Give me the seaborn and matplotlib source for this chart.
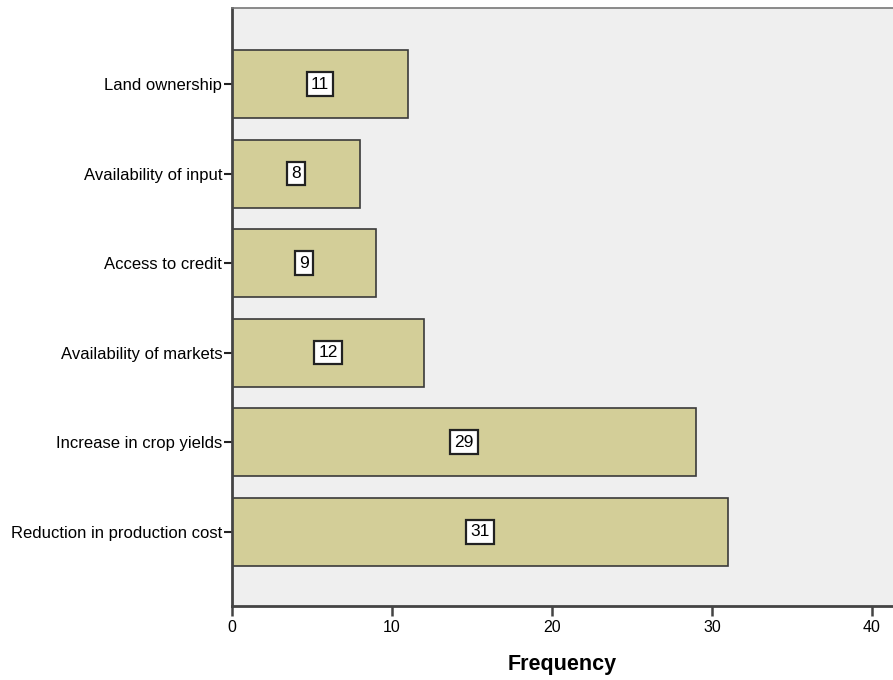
import matplotlib
matplotlib.use("Agg")
import matplotlib.pyplot as plt
import pandas as pd
import seaborn as sns

# ---------- Data ----------
categories = [
    "Land ownership",
    "Availability of input",
    "Access to credit",
    "Availability of markets",
    "Increase in crop yields",
    "Reduction in production cost",
]
frequency = [11, 8, 9, 12, 29, 31]
x_ticks = [0, 10, 20, 30, 40]

BAR_COLOR = "#D3CE98"
BG_COLOR = "#EFEFEF"
EDGE = "#3A3A3A"

df = pd.DataFrame({"category": categories, "frequency": frequency})

sns.set_theme(style="white")
plt.rcParams["font.family"] = ["Liberation Sans", "DejaVu Sans"]

fig = plt.figure(figsize=(8.93, 6.80), dpi=100)
ax = fig.add_axes([232 / 893, 74 / 680, 1 - 232 / 893, 598 / 680])
ax.set_facecolor(BG_COLOR)

sns.barplot(data=df, x="frequency", y="category", orient="h",
            color=BAR_COLOR, saturation=1, width=0.76,
            edgecolor=EDGE, linewidth=1.2, ax=ax)

# value boxes in the middle of each bar
for i, v in enumerate(frequency):
    ax.text(v / 2, i, str(v), ha="center", va="center", fontsize=12.5,
            color="black",
            bbox=dict(boxstyle="square,pad=0.25", facecolor="white",
                      edgecolor="#222222", linewidth=1.6))

ax.set_xlim(0, (893 - 232) / 16)
ax.set_ylim(5.83, -0.85)
ax.set_xticks(x_ticks)
ax.set_xlabel("Frequency", fontsize=15.5, fontweight="bold", labelpad=14,
              color="black")
ax.set_ylabel("")

ax.tick_params(axis="x", direction="out", length=7, width=1.8,
               color="#444444", labelsize=11.5, labelcolor="black",
               pad=3, bottom=True)
ax.tick_params(axis="y", direction="out", length=6, width=1.5,
               color="#222222", labelsize=12, labelcolor="black",
               pad=1, left=True)

for side in ["left", "bottom"]:
    ax.spines[side].set_color("#444444")
    ax.spines[side].set_linewidth(2)
ax.spines["top"].set_color("#777777")
ax.spines["top"].set_linewidth(1.2)
ax.spines["right"].set_visible(False)

plt.savefig("out.png", dpi=100)
plt.close()
